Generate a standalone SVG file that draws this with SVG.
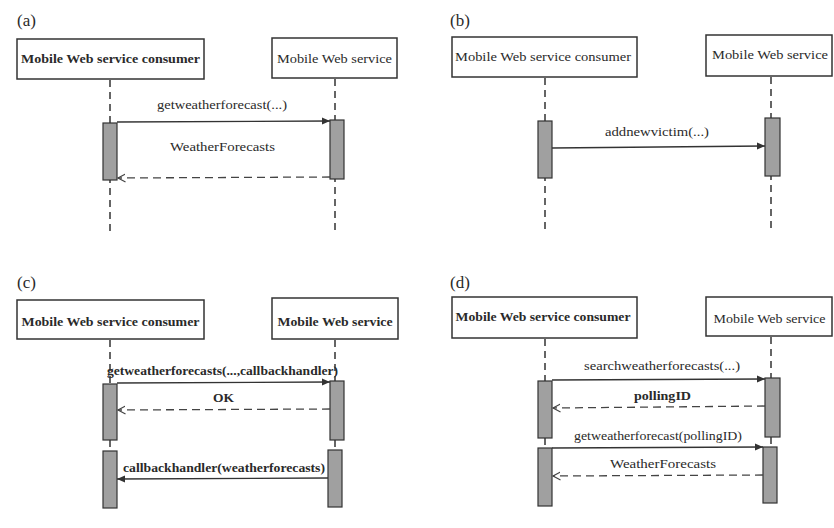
<svg xmlns="http://www.w3.org/2000/svg" width="834" height="528" viewBox="0 0 834 528" font-family="'Liberation Serif', 'DejaVu Serif', serif">
<style>
text{font-family:'Liberation Serif','DejaVu Serif',serif;fill:#2a2a2a;font-size:13.5px}
.pl{font-size:17px}
.b{font-weight:bold}
.box{fill:#fff;stroke:#333;stroke-width:1.5}
.act{fill:#a0a0a0;stroke:#333;stroke-width:1.2}
.life{stroke:#333;stroke-width:1.5;stroke-dasharray:7,5;fill:none}
.msg{stroke:#333;stroke-width:1.3;fill:none}
.ret{stroke:#444;stroke-width:1.3;fill:none;stroke-dasharray:8,5}
</style>
<defs>
<marker id="fa" markerWidth="9" markerHeight="8" refX="8" refY="4" orient="auto" markerUnits="userSpaceOnUse"><path d="M0,0.5 L8,4 L0,7.5 z" fill="#333"/></marker>
<marker id="oa" markerWidth="10" markerHeight="10" refX="7.5" refY="5" orient="auto" markerUnits="userSpaceOnUse"><path d="M0,1 L7.5,5 L0,9" fill="none" stroke="#444" stroke-width="1.2"/></marker>
</defs>
<rect width="834" height="528" fill="#fff"/>

<text class="pl" x="17" y="26">(a)</text>
<text class="pl" x="450" y="26">(b)</text>
<text class="pl" x="17" y="288">(c)</text>
<text class="pl" x="450" y="288">(d)</text>

<!-- lifelines -->
<g id="lifelines">
<line class="life" x1="110" y1="80" x2="110" y2="233"/>
<line class="life" x1="335" y1="79" x2="335" y2="233"/>
<line class="life" x1="545" y1="78" x2="545" y2="232"/>
<line class="life" x1="771" y1="77" x2="771" y2="232"/>
<line class="life" x1="110" y1="340" x2="110" y2="384"/>
<line class="life" x1="110" y1="440" x2="110" y2="451"/>
<line class="life" x1="335" y1="340" x2="335" y2="381"/>
<line class="life" x1="335" y1="440" x2="335" y2="450"/>
<line class="life" x1="545" y1="339" x2="545" y2="381"/>
<line class="life" x1="545" y1="438" x2="545" y2="448"/>
<line class="life" x1="771" y1="337" x2="771" y2="378"/>
<line class="life" x1="771" y1="437" x2="771" y2="447"/>
</g>

<!-- panel a -->
<g id="a-consumer"><rect class="box" x="17" y="39" width="187" height="40"/><text class="b" x="110.5" y="63" text-anchor="middle" textLength="179" lengthAdjust="spacingAndGlyphs">Mobile Web service consumer</text></g>
<g id="a-service"><rect class="box" x="272" y="38" width="125" height="40"/><text x="334.5" y="63" text-anchor="middle" textLength="115" lengthAdjust="spacingAndGlyphs">Mobile Web service</text></g>
<g id="a-act1"><rect class="act" x="103" y="123" width="14" height="57"/></g>
<g id="a-act2"><rect class="act" x="330" y="120" width="14" height="59"/></g>

<!-- panel b -->
<g id="b-consumer"><rect class="box" x="452" y="37" width="185" height="40"/><text x="543" y="61" text-anchor="middle" textLength="176" lengthAdjust="spacingAndGlyphs">Mobile Web service consumer</text></g>
<g id="b-service"><rect class="box" x="706" y="35" width="126" height="41"/><text x="770" y="59" text-anchor="middle" textLength="116" lengthAdjust="spacingAndGlyphs">Mobile Web service</text></g>
<g id="b-act1"><rect class="act" x="538" y="121" width="14" height="57"/></g>
<g id="b-act2"><rect class="act" x="765" y="118" width="15" height="58"/></g>

<!-- panel c -->
<g id="c-consumer"><rect class="box" x="17" y="300" width="187" height="39"/><text class="b" x="110.5" y="326" text-anchor="middle" textLength="178" lengthAdjust="spacingAndGlyphs">Mobile Web service consumer</text></g>
<g id="c-service"><rect class="box" x="272" y="298" width="126" height="41"/><text class="b" x="335" y="326" text-anchor="middle" textLength="115" lengthAdjust="spacingAndGlyphs">Mobile Web service</text></g>
<g id="c-act1"><rect class="act" x="103" y="384" width="14" height="56"/></g>
<g id="c-act2"><rect class="act" x="103" y="451" width="14" height="57"/></g>
<g id="c-act3"><rect class="act" x="330" y="381" width="14" height="59"/></g>
<g id="c-act4"><rect class="act" x="328" y="450" width="14" height="57"/></g>

<!-- panel d -->
<g id="d-consumer"><rect class="box" x="452" y="297" width="185" height="41"/><text class="b" x="543" y="321" text-anchor="middle" textLength="175" lengthAdjust="spacingAndGlyphs">Mobile Web service consumer</text></g>
<g id="d-service"><rect class="box" x="706" y="297" width="126" height="39"/><text x="769.5" y="323" text-anchor="middle" textLength="112" lengthAdjust="spacingAndGlyphs">Mobile Web service</text></g>
<g id="d-act1"><rect class="act" x="538" y="381" width="14" height="57"/></g>
<g id="d-act2"><rect class="act" x="538" y="448" width="14" height="58"/></g>
<g id="d-act3"><rect class="act" x="765" y="378" width="15" height="59"/></g>
<g id="d-act4"><rect class="act" x="763" y="447" width="14" height="56"/></g>

<!-- connectors -->
<g id="connectors">
<line class="msg" x1="117" y1="122" x2="330" y2="121" marker-end="url(#fa)"/>
<line class="ret" x1="330" y1="177" x2="118" y2="178" marker-end="url(#oa)"/>
<line class="msg" x1="552" y1="148" x2="765" y2="146" marker-end="url(#fa)"/>
<line class="msg" x1="117" y1="383" x2="330" y2="382" marker-end="url(#fa)"/>
<line class="ret" x1="330" y1="409" x2="118" y2="410" marker-end="url(#oa)"/>
<line class="msg" x1="328" y1="478" x2="117" y2="479" marker-end="url(#fa)"/>
<line class="msg" x1="552" y1="380" x2="765" y2="379" marker-end="url(#fa)"/>
<line class="ret" x1="765" y1="406" x2="553" y2="408" marker-end="url(#oa)"/>
<line class="msg" x1="552" y1="448" x2="763" y2="447" marker-end="url(#fa)"/>
<line class="ret" x1="763" y1="475" x2="553" y2="476" marker-end="url(#oa)"/>
</g>

<!-- labels -->
<g id="labels">
<text x="222" y="109" text-anchor="middle" textLength="130" lengthAdjust="spacingAndGlyphs">getweatherforecast(...)</text>
<text x="222.5" y="151" text-anchor="middle" textLength="105" lengthAdjust="spacingAndGlyphs">WeatherForecasts</text>
<text x="657" y="136" text-anchor="middle" textLength="104" lengthAdjust="spacingAndGlyphs">addnewvictim(...)</text>
<text class="b" x="222.5" y="375" text-anchor="middle" textLength="231" lengthAdjust="spacingAndGlyphs">getweatherforecasts(...,callbackhandler)</text>
<text class="b" x="223.5" y="402" text-anchor="middle" textLength="21" lengthAdjust="spacingAndGlyphs">OK</text>
<text class="b" x="224" y="472" text-anchor="middle" textLength="202" lengthAdjust="spacingAndGlyphs">callbackhandler(weatherforecasts)</text>
<text x="662" y="370" text-anchor="middle" textLength="156" lengthAdjust="spacingAndGlyphs">searchweatherforecasts(...)</text>
<text class="b" x="662.5" y="400" text-anchor="middle" textLength="57" lengthAdjust="spacingAndGlyphs">pollingID</text>
<text x="658" y="440" text-anchor="middle" textLength="168" lengthAdjust="spacingAndGlyphs">getweatherforecast(pollingID)</text>
<text x="663" y="468" text-anchor="middle" textLength="106" lengthAdjust="spacingAndGlyphs">WeatherForecasts</text>
</g>
</svg>
